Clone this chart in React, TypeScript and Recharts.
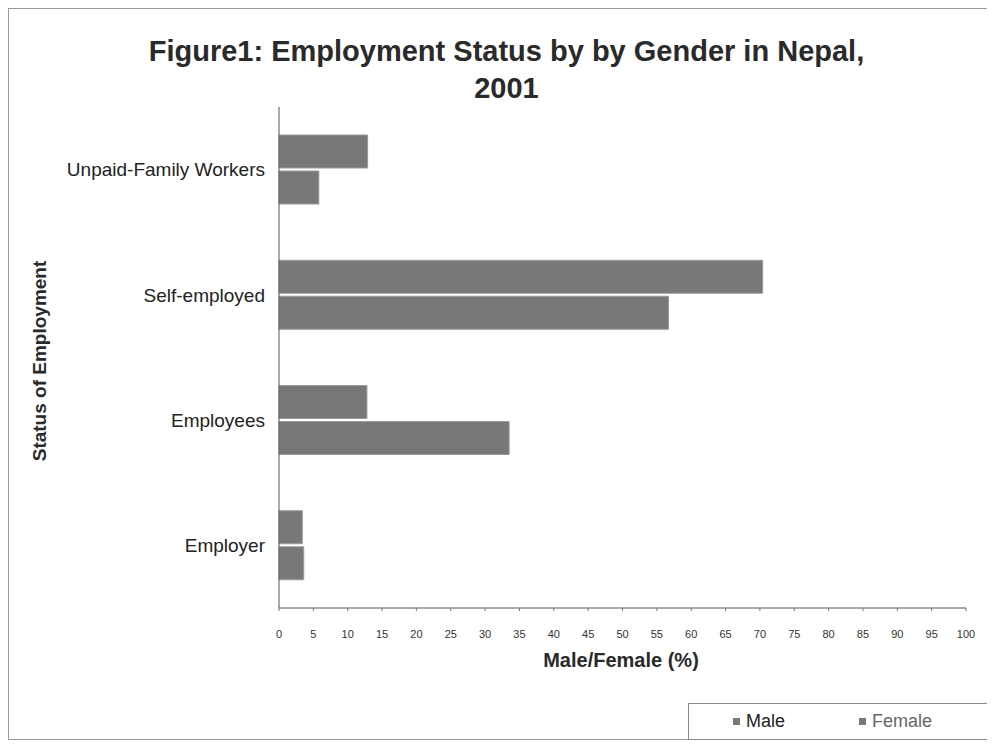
import React from "react";
import { BarChart, Bar, XAxis, YAxis } from "recharts";

const categories = ["Unpaid-Family Workers", "Self-employed", "Employees", "Employer"];
const maleValues = [12.9, 70.4, 12.8, 3.4];
const femaleValues = [5.8, 56.7, 33.5, 3.6];
const xTicks = [0, 5, 10, 15, 20, 25, 30, 35, 40, 45, 50, 55, 60, 65, 70, 75, 80, 85, 90, 95, 100];
const seriesNames = ["Male", "Female"];

const data = categories.map((c, i) => ({ name: c, Male: maleValues[i], Female: femaleValues[i] }));

const FONT = "'Liberation Sans', Arial, sans-serif";
const BAR = "#767977";

export default function App() {
  return (
    <div
      style={{
        position: "relative",
        width: 982,
        height: 732,
        border: "1px solid #999",
        boxSizing: "border-box",
        background: "#fff",
        fontFamily: FONT,
      }}
    >
      <div
        style={{
          position: "absolute",
          left: 0,
          top: 24,
          width: 995,
          textAlign: "center",
          fontSize: 29,
          fontWeight: "bold",
          color: "#2a2a2a",
          lineHeight: "37px",
        }}
      >
        Figure1: Employment Status by by Gender in Nepal,
        <br />
        2001
      </div>
      <div
        style={{
          position: "absolute",
          left: 31,
          top: 352,
          transform: "translate(-50%, -50%) rotate(-90deg)",
          fontSize: 19,
          fontWeight: "bold",
          color: "#2a2a2a",
          whiteSpace: "nowrap",
        }}
      >
        Status of Employment
      </div>
      <div
        style={{
          position: "absolute",
          left: 0,
          width: 1224,
          top: 640,
          textAlign: "center",
          fontSize: 20,
          fontWeight: "bold",
          color: "#2a2a2a",
        }}
      >
        Male/Female (%)
      </div>
      <div
        style={{
          position: "absolute",
          left: 679,
          top: 694,
          width: 302,
          height: 37,
          border: "1px solid #888",
          borderRight: "none",
          background: "#fff",
          display: "flex",
          alignItems: "center",
          fontSize: 18,
          boxSizing: "border-box",
        }}
      >
        <span style={{ marginLeft: 44, display: "inline-block", width: 7, height: 7, background: BAR }} />
        <span style={{ marginLeft: 6, color: "#222" }}>{seriesNames[0]}</span>
        <span style={{ marginLeft: 74, display: "inline-block", width: 7, height: 7, background: BAR }} />
        <span style={{ marginLeft: 6, color: "#666" }}>{seriesNames[1]}</span>
      </div>
      <div style={{ position: "absolute", left: 0, top: 0 }}>
        <BarChart
          width={980}
          height={730}
          data={data}
          layout="vertical"
          margin={{ top: 98, right: 23, bottom: 101, left: 0 }}
          barSize={33}
          barGap={3}
          barCategoryGap="21%"
        >
          <XAxis
            type="number"
            domain={[0, 100]}
            ticks={xTicks}
            interval={0}
            tickSize={3}
            tickMargin={19}
            height={30}
            axisLine={{ stroke: "#555" }}
            tickLine={{ stroke: "#777" }}
            tick={{ fontSize: 11, fill: "#333", fontFamily: FONT }}
          />
          <YAxis
            type="category"
            dataKey="name"
            width={270}
            tickSize={0}
            tickMargin={14}
            tickLine={false}
            axisLine={{ stroke: "#555" }}
            tick={{ fontSize: 19, fill: "#222", fontFamily: FONT }}
          />
          <Bar dataKey="Male" name={seriesNames[0]} fill={BAR} stroke="#999c9a" strokeWidth={1} isAnimationActive={false} />
          <Bar dataKey="Female" name={seriesNames[1]} fill={BAR} stroke="#999c9a" strokeWidth={1} isAnimationActive={false} />
        </BarChart>
      </div>
    </div>
  );
}
